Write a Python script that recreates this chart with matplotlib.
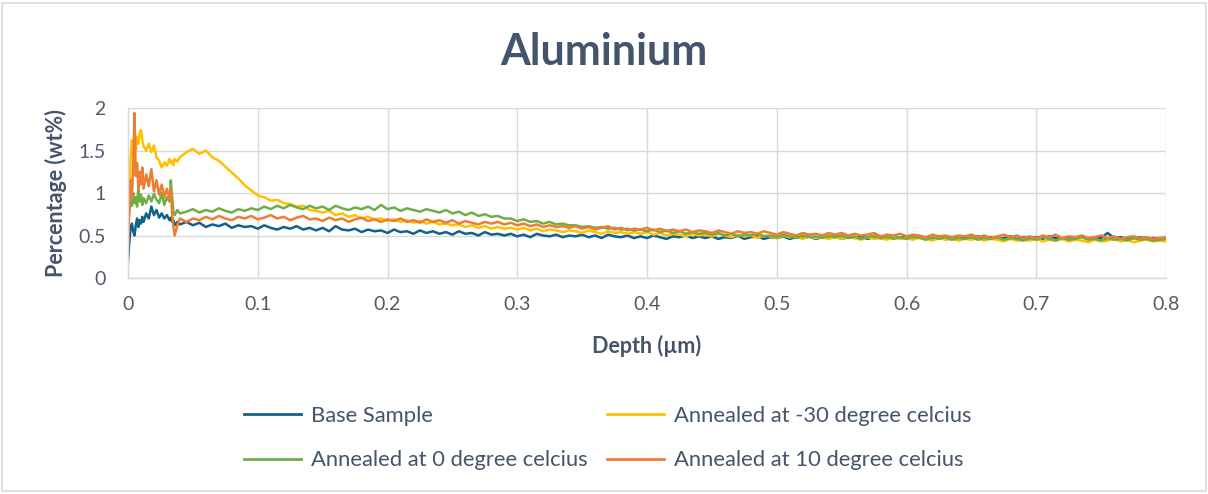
import matplotlib
matplotlib.use("Agg")
import matplotlib.pyplot as plt
from matplotlib.patches import Rectangle

# ---------------- data ----------------
depth_early = [0, .001, .002, .003, .004, .005, .006, .007, .008, .009, .010, .011, .012,
               .014, .016, .018, .020, .022, .024, .026, .028, .030, .032, .033, .034,
               .035, .036, .038, .040]
depth_late = [
    0.045, 0.050, 0.055, 0.060, 0.065, 0.070, 0.075, 0.080, 0.085, 0.090,
    0.095, 0.100, 0.105, 0.110, 0.115, 0.120, 0.125, 0.130, 0.135, 0.140,
    0.145, 0.150, 0.155, 0.160, 0.165, 0.170, 0.175, 0.180, 0.185, 0.190,
    0.195, 0.200, 0.205, 0.210, 0.215, 0.220, 0.225, 0.230, 0.235, 0.240,
    0.245, 0.250, 0.255, 0.260, 0.265, 0.270, 0.275, 0.280, 0.285, 0.290,
    0.295, 0.300, 0.305, 0.310, 0.315, 0.320, 0.325, 0.330, 0.335, 0.340,
    0.345, 0.350, 0.355, 0.360, 0.365, 0.370, 0.375, 0.380, 0.385, 0.390,
    0.395, 0.400, 0.405, 0.410, 0.415, 0.420, 0.425, 0.430, 0.435, 0.440,
    0.445, 0.450, 0.455, 0.460, 0.465, 0.470, 0.475, 0.480, 0.485, 0.490,
    0.495, 0.500, 0.505, 0.510, 0.515, 0.520, 0.525, 0.530, 0.535, 0.540,
    0.545, 0.550, 0.555, 0.560, 0.565, 0.570, 0.575, 0.580, 0.585, 0.590,
    0.595, 0.600, 0.605, 0.610, 0.615, 0.620, 0.625, 0.630, 0.635, 0.640,
    0.645, 0.650, 0.655, 0.660, 0.665, 0.670, 0.675, 0.680, 0.685, 0.690,
    0.695, 0.700, 0.705, 0.710, 0.715, 0.720, 0.725, 0.730, 0.735, 0.740,
    0.745, 0.750, 0.755, 0.760, 0.765, 0.770, 0.775, 0.780, 0.785, 0.790,
    0.795, 0.800]

base_early = [0.20, 0.42, 0.58, 0.64, 0.55, 0.50, 0.62, 0.70, 0.60, 0.68, 0.64, 0.72, 0.66,
              0.76, 0.70, 0.84, 0.74, 0.80, 0.71, 0.76, 0.70, 0.74, 0.68, 0.71, 0.66,
              0.68, 0.62, 0.66, 0.63]
base_late = [
    0.66, 0.62, 0.65, 0.60, 0.63, 0.61, 0.64, 0.59, 0.62, 0.60,
    0.61, 0.58, 0.62, 0.59, 0.57, 0.60, 0.58, 0.61, 0.57, 0.59,
    0.56, 0.59, 0.55, 0.61, 0.57, 0.56, 0.58, 0.54, 0.57, 0.55,
    0.56, 0.53, 0.57, 0.54, 0.55, 0.52, 0.56, 0.53, 0.55, 0.52,
    0.54, 0.51, 0.55, 0.52, 0.53, 0.50, 0.54, 0.51, 0.52, 0.50,
    0.52, 0.49, 0.51, 0.48, 0.52, 0.50, 0.49, 0.51, 0.48, 0.50,
    0.49, 0.51, 0.48, 0.50, 0.47, 0.51, 0.49, 0.48, 0.50, 0.47,
    0.49, 0.47, 0.50, 0.48, 0.46, 0.49, 0.48, 0.50, 0.47, 0.49,
    0.47, 0.49, 0.46, 0.48, 0.47, 0.50, 0.46, 0.48, 0.49, 0.46,
    0.48, 0.47, 0.49, 0.46, 0.48, 0.47, 0.49, 0.46, 0.48, 0.47,
    0.49, 0.46, 0.48, 0.47, 0.49, 0.46, 0.48, 0.47, 0.46, 0.48,
    0.47, 0.49, 0.46, 0.48, 0.47, 0.46, 0.48, 0.49, 0.46, 0.47,
    0.48, 0.46, 0.49, 0.47, 0.48, 0.46, 0.47, 0.49, 0.46, 0.48,
    0.47, 0.48, 0.46, 0.49, 0.47, 0.46, 0.48, 0.47, 0.49, 0.46,
    0.48, 0.47, 0.53, 0.47, 0.48, 0.46, 0.47, 0.48, 0.46, 0.47,
    0.46, 0.47]

m30_early = [0.60, 0.95, 1.40, 1.62, 1.45, 1.60, 1.50, 1.66, 1.58, 1.70, 1.74, 1.62, 1.55,
             1.50, 1.58, 1.48, 1.56, 1.42, 1.38, 1.30, 1.36, 1.32, 1.40, 1.35, 1.38,
             1.33, 1.40, 1.37, 1.42]
m30_late = [
    1.48, 1.52, 1.46, 1.50, 1.42, 1.38, 1.31, 1.24, 1.17, 1.09,
    1.03, 0.97, 0.95, 0.91, 0.92, 0.88, 0.87, 0.84, 0.85, 0.80,
    0.79, 0.77, 0.79, 0.74, 0.76, 0.72, 0.74, 0.70, 0.72, 0.69,
    0.70, 0.67, 0.69, 0.66, 0.68, 0.65, 0.67, 0.64, 0.66, 0.63,
    0.64, 0.62, 0.63, 0.60, 0.62, 0.59, 0.61, 0.58, 0.60, 0.58,
    0.59, 0.57, 0.59, 0.56, 0.58, 0.55, 0.57, 0.56, 0.54, 0.56,
    0.55, 0.53, 0.56, 0.54, 0.52, 0.55, 0.53, 0.54, 0.52, 0.54,
    0.52, 0.54, 0.51, 0.53, 0.50, 0.52, 0.51, 0.49, 0.52, 0.50,
    0.51, 0.49, 0.52, 0.50, 0.48, 0.51, 0.49, 0.50, 0.47, 0.50,
    0.49, 0.47, 0.50, 0.48, 0.49, 0.46, 0.49, 0.47, 0.48, 0.46,
    0.48, 0.46, 0.49, 0.47, 0.45, 0.48, 0.46, 0.47, 0.45, 0.48,
    0.46, 0.47, 0.45, 0.48, 0.46, 0.44, 0.47, 0.45, 0.46, 0.44,
    0.46, 0.45, 0.47, 0.44, 0.46, 0.45, 0.43, 0.46, 0.44, 0.45,
    0.44, 0.46, 0.43, 0.45, 0.44, 0.46, 0.43, 0.45, 0.44, 0.42,
    0.45, 0.43, 0.44, 0.46, 0.43, 0.45, 0.42, 0.44, 0.45, 0.43,
    0.44, 0.43]

a0_early = [0.60, 0.78, 0.92, 0.85, 1.00, 0.88, 0.95, 0.84, 1.05, 0.90, 0.98, 0.86, 0.94,
            0.88, 0.97, 0.90, 0.99, 0.92, 0.88, 1.00, 0.86, 0.95, 0.90, 1.15, 0.95,
            0.78, 0.74, 0.80, 0.76]
a0_late = [
    0.78, 0.81, 0.77, 0.80, 0.78, 0.82, 0.79, 0.77, 0.81, 0.79,
    0.82, 0.80, 0.84, 0.81, 0.85, 0.82, 0.86, 0.83, 0.81, 0.85,
    0.82, 0.84, 0.80, 0.85, 0.82, 0.80, 0.83, 0.81, 0.84, 0.80,
    0.86, 0.81, 0.83, 0.79, 0.82, 0.80, 0.78, 0.81, 0.79, 0.77,
    0.80, 0.76, 0.78, 0.74, 0.77, 0.73, 0.75, 0.72, 0.73, 0.70,
    0.70, 0.67, 0.69, 0.66, 0.67, 0.64, 0.66, 0.63, 0.64, 0.62,
    0.62, 0.60, 0.61, 0.59, 0.60, 0.58, 0.59, 0.57, 0.58, 0.56,
    0.57, 0.55, 0.57, 0.54, 0.56, 0.53, 0.55, 0.52, 0.54, 0.52,
    0.53, 0.51, 0.53, 0.50, 0.52, 0.49, 0.51, 0.50, 0.52, 0.49,
    0.50, 0.48, 0.51, 0.49, 0.47, 0.50, 0.48, 0.49, 0.47, 0.50,
    0.48, 0.50, 0.47, 0.49, 0.46, 0.48, 0.50, 0.47, 0.49, 0.46,
    0.48, 0.46, 0.49, 0.47, 0.45, 0.48, 0.46, 0.48, 0.45, 0.47,
    0.46, 0.48, 0.45, 0.47, 0.46, 0.48, 0.45, 0.47, 0.46, 0.44,
    0.47, 0.45, 0.48, 0.46, 0.44, 0.47, 0.45, 0.46, 0.48, 0.45,
    0.46, 0.44, 0.47, 0.45, 0.46, 0.44, 0.47, 0.45, 0.46, 0.44,
    0.45, 0.46]

a10_early = [0.35, 0.80, 1.15, 0.95, 1.30, 1.94, 1.20, 1.35, 1.05, 1.25, 1.10, 1.30, 1.05,
             1.22, 1.08, 1.28, 1.02, 1.15, 0.98, 1.10, 0.95, 1.05, 0.92, 1.05, 0.75,
             0.60, 0.50, 0.62, 0.70]
a10_late = [
    0.66, 0.70, 0.68, 0.72, 0.69, 0.73, 0.70, 0.68, 0.72, 0.70,
    0.73, 0.69, 0.71, 0.74, 0.70, 0.72, 0.68, 0.71, 0.73, 0.69,
    0.70, 0.67, 0.71, 0.68, 0.70, 0.66, 0.69, 0.71, 0.67, 0.69,
    0.66, 0.69, 0.67, 0.70, 0.66, 0.68, 0.65, 0.69, 0.66, 0.68,
    0.65, 0.68, 0.64, 0.67, 0.65, 0.63, 0.66, 0.64, 0.66, 0.63,
    0.65, 0.62, 0.64, 0.61, 0.63, 0.60, 0.62, 0.60, 0.61, 0.59,
    0.61, 0.58, 0.60, 0.57, 0.59, 0.61, 0.57, 0.59, 0.56, 0.58,
    0.57, 0.59, 0.56, 0.58, 0.55, 0.57, 0.55, 0.57, 0.54, 0.56,
    0.55, 0.53, 0.56, 0.54, 0.52, 0.55, 0.53, 0.54, 0.52, 0.55,
    0.53, 0.51, 0.54, 0.52, 0.50, 0.53, 0.51, 0.52, 0.50, 0.53,
    0.51, 0.53, 0.50, 0.52, 0.50, 0.51, 0.53, 0.49, 0.51, 0.50,
    0.52, 0.49, 0.51, 0.50, 0.48, 0.51, 0.49, 0.50, 0.48, 0.50,
    0.49, 0.51, 0.48, 0.50, 0.47, 0.49, 0.51, 0.48, 0.50, 0.47,
    0.49, 0.47, 0.50, 0.48, 0.51, 0.47, 0.49, 0.48, 0.50, 0.47,
    0.48, 0.50, 0.47, 0.49, 0.46, 0.48, 0.49, 0.47, 0.48, 0.46,
    0.47, 0.48]

series_names = ["Base Sample", "Annealed at -30 degree celcius",
                "Annealed at 0 degree celcius", "Annealed at 10 degree celcius"]
series_values = [base_early + base_late, m30_early + m30_late,
                 a0_early + a0_late, a10_early + a10_late]
series_colors = ["#13618A", "#FFC000", "#70AD47", "#ED7D31"]
depth = depth_early + depth_late

x_ticks = [0, 0.1, 0.2, 0.3, 0.4, 0.5, 0.6, 0.7, 0.8]
x_labels = ["0", "0.1", "0.2", "0.3", "0.4", "0.5", "0.6", "0.7", "0.8"]
y_ticks = [0, 0.5, 1, 1.5, 2]
y_labels = ["0", "0.5", "1", "1.5", "2"]

# ---------------- figure ----------------
plt.rcParams['font.family'] = ['Lato', 'DejaVu Sans']
fig = plt.figure(figsize=(12.08, 4.94), dpi=100)
fig.patches.append(Rectangle((0.002, 0.006), 0.996, 0.988, transform=fig.transFigure,
                             fill=False, edgecolor="#D9D9D9", linewidth=1.2))

ax = fig.add_axes([128 / 1208, 1 - 278 / 494, (1166 - 128) / 1208, (278 - 108) / 494])
lines = []
for name, vals, col in zip(series_names, series_values, series_colors):
    ln, = ax.plot(depth, vals, color=col, linewidth=1.8, label=name)
    lines.append(ln)

ax.set_xlim(0, 0.8)
ax.set_ylim(0, 2)
ax.set_xticks(x_ticks)
ax.set_xticklabels(x_labels)
ax.set_yticks(y_ticks)
ax.set_yticklabels(y_labels)
ax.grid(True, color="#D9D9D9", linewidth=1.0)
ax.set_axisbelow(True)
for s in ["top", "right"]:
    ax.spines[s].set_visible(False)
for s in ["left", "bottom"]:
    ax.spines[s].set_color("#D9D9D9")
    ax.spines[s].set_linewidth(1.0)
ax.tick_params(length=0, labelsize=14, colors="#505A68")
ax.tick_params(axis="x", pad=13)
ax.tick_params(axis="y", pad=16)

ax.set_xlabel("Depth (µm)", fontsize=15.5, fontweight="bold", color="#44546A", labelpad=16)
ax.set_ylabel("Percentage (wt%)", fontsize=15.5, fontweight="bold", color="#44546A", labelpad=8)

fig.text(0.5, 1 - 52 / 494, "Aluminium", ha="center", va="center",
         fontsize=31, fontweight="bold", color="#44546A")

order = [0, 2, 1, 3]
leg = fig.legend([lines[i] for i in order], [series_names[i] for i in order],
                 ncol=2, loc="center", bbox_to_anchor=(0.503, 1 - 438 / 494),
                 frameon=False, fontsize=15.8, handlelength=2.6, handletextpad=0.45,
                 columnspacing=0.9, labelspacing=1.12)
for t in leg.get_texts():
    t.set_color("#44546A")
for h in leg.legend_handles:
    h.set_linewidth(2.0)

fig.savefig("out.png", dpi=100)
